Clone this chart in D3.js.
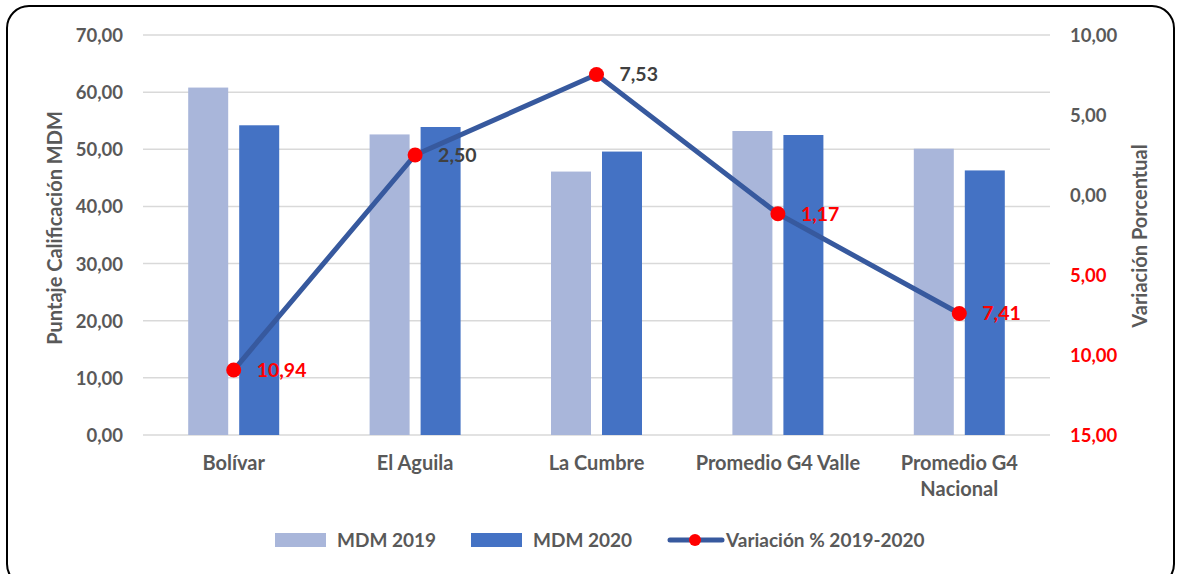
<!DOCTYPE html>
<html>
<head>
<meta charset="utf-8">
<script src="https://cdn.jsdelivr.net/npm/d3@7"></script>
<style>
  body { margin: 0; background: #fff; }
  text { font-family: Lato, "Open Sans", sans-serif; font-weight: bold; }
</style>
</head>
<body>
<svg id="chart" width="1181" height="574"></svg>
<script>
var categories = ["Bolívar", "El Aguila", "La Cumbre", "Promedio G4 Valle", "Promedio G4 Nacional"];
var mdm2019 = [60.8, 52.6, 46.1, 53.2, 50.1];
var mdm2020 = [54.2, 53.9, 49.6, 52.5, 46.3];
var variacion = [-10.94, 2.50, 7.53, -1.17, -7.41];
var leftTicks = [0, 10, 20, 30, 40, 50, 60, 70];
var rightTicks = [10, 5, 0, -5, -10, -15];

var c2019 = "#A9B6DA", c2020 = "#4472C4", cLine = "#37599E", cDot = "#FF0000";
var txt = "#595959";
var fmt = function (v) { return d3.format(".2f")(Math.abs(v)).replace(".", ","); };

var svg = d3.select("#chart");

svg.append("rect")
  .attr("x", 7).attr("y", 6).attr("width", 1167).attr("height", 580)
  .attr("rx", 22).attr("fill", "#fff").attr("stroke", "#000").attr("stroke-width", 2);

var x = d3.scaleBand().domain(categories).range([143, 1050]);
var x1 = d3.scaleBand().domain(["a", "b"])
  .range([x.bandwidth() / 2 - 45.5, x.bandwidth() / 2 + 45.5]).paddingInner(0.2157);
var y = d3.scaleLinear().domain([0, 70]).range([435, 35]);
var yR = d3.scaleLinear().domain([-15, 10]).range([435, 35]);

// grid
svg.append("g").selectAll("line").data(leftTicks).enter().append("line")
  .attr("x1", 143).attr("x2", 1050)
  .attr("y1", function (d) { return y(d); }).attr("y2", function (d) { return y(d); })
  .attr("stroke", "#D9D9D9").attr("stroke-width", 1.5);

// left axis
var axL = svg.append("g").attr("transform", "translate(123,0)")
  .call(d3.axisLeft(y).tickValues(leftTicks).tickSize(0).tickPadding(0).tickFormat(fmt));
axL.select(".domain").remove();
axL.selectAll("text").attr("fill", txt).style("font-size", "18.5px").attr("dy", "0.35em");

// right axis
var axR = svg.append("g").attr("transform", "translate(1070,0)")
  .call(d3.axisRight(yR).tickValues(rightTicks).tickSize(0).tickPadding(0).tickFormat(fmt));
axR.select(".domain").remove();
axR.selectAll("text").style("font-size", "18.5px").attr("dy", "0.35em")
  .attr("fill", function (d) { return d < 0 ? cDot : txt; });

// bars
var g = svg.append("g");
g.selectAll(".b19").data(categories).enter().append("rect")
  .attr("x", function (d) { return x(d) + x1("a"); })
  .attr("y", function (d, i) { return y(mdm2019[i]); })
  .attr("width", x1.bandwidth())
  .attr("height", function (d, i) { return y(0) - y(mdm2019[i]); })
  .attr("fill", c2019);
g.selectAll(".b20").data(categories).enter().append("rect")
  .attr("x", function (d) { return x(d) + x1("b"); })
  .attr("y", function (d, i) { return y(mdm2020[i]); })
  .attr("width", x1.bandwidth())
  .attr("height", function (d, i) { return y(0) - y(mdm2020[i]); })
  .attr("fill", c2020);

// category labels
var cx = function (d) { return x(d) + x.bandwidth() / 2; };
var catG = svg.append("g");
categories.forEach(function (c) {
  var lines = c === "Promedio G4 Nacional" ? ["Promedio G4", "Nacional"] : [c];
  lines.forEach(function (l, j) {
    catG.append("text").attr("x", cx(c)).attr("y", 470 + j * 26)
      .attr("text-anchor", "middle").attr("fill", txt).style("font-size", "20px").text(l);
  });
});

// line
var line = d3.line()
  .x(function (d, i) { return cx(categories[i]); })
  .y(function (d) { return yR(d); });
svg.append("path").datum(variacion).attr("d", line)
  .attr("fill", "none").attr("stroke", cLine).attr("stroke-width", 5);
svg.append("g").selectAll("circle").data(variacion).enter().append("circle")
  .attr("cx", function (d, i) { return cx(categories[i]); })
  .attr("cy", function (d) { return yR(d); })
  .attr("r", 7.5).attr("fill", cDot);
svg.append("g").selectAll("text").data(variacion).enter().append("text")
  .attr("x", function (d, i) { return cx(categories[i]) + 23; })
  .attr("y", function (d) { return yR(d); })
  .attr("dy", "0.35em").style("font-size", "19.5px")
  .attr("fill", function (d) { return d < 0 ? cDot : "#404040"; })
  .text(fmt);

// axis titles
svg.append("text").attr("transform", "translate(62,228) rotate(-90)")
  .attr("text-anchor", "middle").attr("fill", txt).style("font-size", "20px")
  .text("Puntaje Calificación MDM");
svg.append("text").attr("transform", "translate(1147,236) rotate(-90)")
  .attr("text-anchor", "middle").attr("fill", txt).style("font-size", "20px")
  .text("Variación Porcentual");

// legend
var leg = svg.append("g");
leg.append("rect").attr("x", 275).attr("y", 533).attr("width", 51).attr("height", 14).attr("fill", c2019);
leg.append("text").attr("x", 337).attr("y", 540).attr("dy", "0.35em").attr("fill", txt)
  .style("font-size", "19px").text("MDM 2019");
leg.append("rect").attr("x", 471).attr("y", 533).attr("width", 51).attr("height", 14).attr("fill", c2020);
leg.append("text").attr("x", 533).attr("y", 540).attr("dy", "0.35em").attr("fill", txt)
  .style("font-size", "19px").text("MDM 2020");
leg.append("line").attr("x1", 670).attr("x2", 722).attr("y1", 540).attr("y2", 540)
  .attr("stroke", cLine).attr("stroke-width", 5).attr("stroke-linecap", "round");
leg.append("circle").attr("cx", 695).attr("cy", 540).attr("r", 6).attr("fill", cDot);
leg.append("text").attr("x", 726).attr("y", 540).attr("dy", "0.35em").attr("fill", txt)
  .style("font-size", "19px").text("Variación % 2019-2020");
</script>
</body>
</html>
